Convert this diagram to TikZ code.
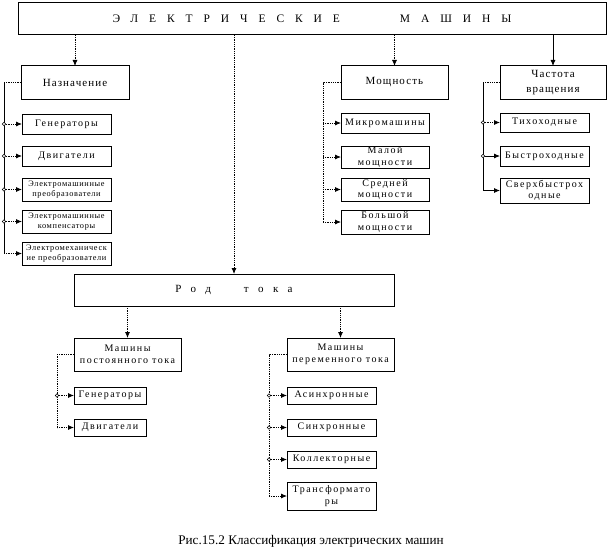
\documentclass[tikz,border=0pt]{standalone}
\usepackage{fontspec}
\setmainfont{Liberation Serif}
\usetikzlibrary{arrows.meta}
\begin{document}
\begin{tikzpicture}[x=1pt,y=-1pt,
 every node/.style={inner sep=0pt, outer sep=0pt},
 bigbox/.style={draw, line width=1pt, anchor=north west, align=center, font=\fontsize{11}{15}\selectfont\addfontfeature{LetterSpace=10}},
 smallbox/.style={draw, line width=0.8pt, anchor=north west, align=center, font=\fontsize{10}{11.5}\selectfont\addfontfeature{LetterSpace=15}},
 tinybox/.style={draw, line width=0.8pt, anchor=north west, align=center, font=\fontsize{8.3}{10.5}\selectfont\addfontfeature{LetterSpace=8}},
 conn/.style={densely dotted, line width=0.8pt},
 solidconn/.style={line width=0.8pt},
 arr/.style={-{Latex[length=6pt,width=5pt]}},
 jn/.style={circle, draw, fill=white, minimum size=3.5pt, line width=0.5pt},
]
\useasboundingbox (0,0) rectangle (610,551);

% top
\node[draw, line width=1pt, anchor=north west, minimum width=588, minimum height=32,
  font=\fontsize{11.5}{13}\selectfont\addfontfeature{LetterSpace=95}] (top) at (18,3)
  {ЭЛЕКТРИЧЕСКИЕ\hspace{60pt}МАШИНЫ};

% level 1
\node[bigbox, minimum width=108, minimum height=33] (naz) at (21,66) {Назначение};
\node[bigbox, minimum width=107, minimum height=33] (mosh) at (341,66) {Мощность};
\node[bigbox, minimum width=106, minimum height=33] (chast) at (500,66) {Частота\\вращения};

% Назначение items
\node[smallbox, minimum width=89, minimum height=20] (gen1) at (22,114) {Генераторы};
\node[smallbox, minimum width=89, minimum height=20] (dvig1) at (22,146) {Двигатели};
\node[tinybox, minimum width=89, minimum height=23] (ep) at (22,178) {Электромашинные\\преобразователи};
\node[tinybox, minimum width=89, minimum height=23] (komp) at (22,210) {Электромашинные\\компенсаторы};
\node[tinybox, minimum width=89, minimum height=23] (ems) at (22,242) {Электромеханическ\\ие преобразователи};

% Мощность items
\node[smallbox, minimum width=88, minimum height=20] (micro) at (341,113) {Микромашины};
\node[smallbox, minimum width=88, minimum height=22] (malo) at (341,146) {Малой\\мощности};
\node[smallbox, minimum width=88, minimum height=23] (sred) at (341,178) {Средней\\мощности};
\node[smallbox, minimum width=88, minimum height=24] (bolsh) at (341,210) {Большой\\мощности};

% Частота items
\node[smallbox, minimum width=89, minimum height=19] (tiho) at (500,113) {Тихоходные};
\node[smallbox, minimum width=89, minimum height=20] (bystro) at (500,146) {Быстроходные};
\node[smallbox, minimum width=89, minimum height=25] (sverh) at (500,178) {Сверхбыстрох\\одные};

% Род тока
\node[draw, line width=1pt, anchor=north west, minimum width=320, minimum height=32,
  font=\fontsize{11}{13}\selectfont\addfontfeature{LetterSpace=86}] (rod) at (74,274)
  {Род\hspace{33pt}тока};
\node[smallbox, minimum width=107, minimum height=33] (post) at (74,338) {Машины\\постоянного тока};
\node[smallbox, minimum width=107, minimum height=33] (per) at (287,338) {Машины\\переменного тока};

\node[smallbox, minimum width=72, minimum height=17] (gen2) at (74,387) {Генераторы};
\node[smallbox, minimum width=72, minimum height=17] (dvig2) at (74,419) {Двигатели};

\node[smallbox, minimum width=89, minimum height=17] (asin) at (287,387) {Асинхронные};
\node[smallbox, minimum width=89, minimum height=17] (sinh) at (287,419) {Синхронные};
\node[smallbox, minimum width=89, minimum height=17] (koll) at (287,451) {Коллекторные};
\node[smallbox, minimum width=89, minimum height=28] (trans) at (287,482) {Трансформато\\ры};

% caption
\node[font=\fontsize{13.2}{15}\selectfont] (cap) at (311,541) {Рис.15.2 Классификация электрических машин};

% top arrows
\draw[conn,arr] (top.south -| naz.north) -- (naz.north);
\draw[conn,arr] (top.south -| rod.north) -- (rod.north);
\draw[conn,arr] (top.south -| mosh.north) -- (mosh.north);
\draw[solidconn,arr] (top.south -| chast.north) -- (chast.north);

% Назначение bus
\coordinate (bn) at (4,0);
\draw[conn] (naz.west) -- (naz.west -| bn);
\draw[solidconn] (naz.west -| bn) -- (ems.west -| bn);
\foreach \n in {gen1,dvig1,ep,komp,ems}{\draw[conn,arr] (\n.west -| bn) -- (\n.west);}
\foreach \n in {gen1,dvig1,ep,komp}{\node[jn] (j\n) at (\n.west -| bn) {};}

% Мощность bus
\coordinate (bm) at (323,0);
\draw[conn] (mosh.west) -- (mosh.west -| bm) -- (bolsh.west -| bm);
\foreach \n in {micro,malo,sred,bolsh}{\draw[conn,arr] (\n.west -| bm) -- (\n.west);}

% Частота bus
\coordinate (bc) at (483,0);
\draw[conn] (chast.west) -- (chast.west -| bc);
\draw[solidconn] (chast.west -| bc) -- (sverh.west -| bc);
\draw[conn,arr] (tiho.west -| bc) -- (tiho.west);
\draw[solidconn,arr] (bystro.west -| bc) -- (bystro.west);
\draw[solidconn,arr] (sverh.west -| bc) -- (sverh.west);
\node[jn] (jtiho) at (tiho.west -| bc) {};
\node[jn] (jbystro) at (bystro.west -| bc) {};

% Род тока arrows
\draw[conn,arr] (rod.south -| post.north) -- (post.north);
\draw[conn,arr] (rod.south -| per.north) -- (per.north);

% постоянного bus
\coordinate (bp) at (57,0);
\draw[conn] (post.west) -- (post.west -| bp) -- (dvig2.west -| bp);
\foreach \n in {gen2,dvig2}{\draw[conn,arr] (\n.west -| bp) -- (\n.west);}
\node[jn] (jgen2) at (gen2.west -| bp) {};

% переменного bus
\coordinate (bv) at (269,0);
\draw[conn] (per.west) -- (per.west -| bv) -- (trans.west -| bv);
\foreach \n in {asin,sinh,koll,trans}{\draw[conn,arr] (\n.west -| bv) -- (\n.west);}
\foreach \n in {asin,sinh,koll}{\node[jn] (j\n) at (\n.west -| bv) {};}
\end{tikzpicture}
\end{document}
